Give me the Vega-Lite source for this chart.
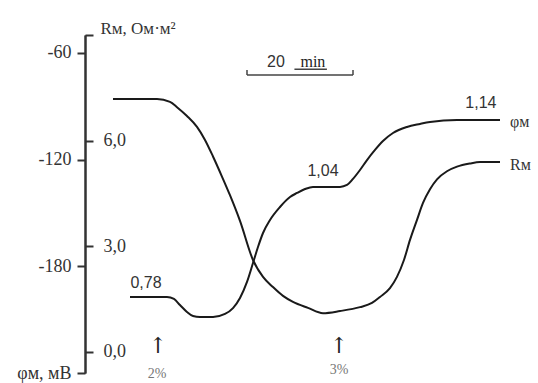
{
  "$schema": "https://vega.github.io/schema/vega-lite/v6.json",
  "width": 430,
  "height": 338,
  "autosize": {"type": "none"},
  "padding": {"left": 85, "top": 35, "right": 23, "bottom": 10},
  "background": "white",
  "config": {"view": {"stroke": null}, "axis": {"grid": false}},
  "datasets": {
    "phi": [
      {"t": 8.04, "v": -197.3}, {"t": 14.64, "v": -197.3}, {"t": 15.89, "v": -198.4},
      {"t": 16.96, "v": -201.8}, {"t": 18.21, "v": -205.7}, {"t": 19.29, "v": -208.0},
      {"t": 20.54, "v": -208.5}, {"t": 22.86, "v": -208.5}, {"t": 25.0, "v": -206.8},
      {"t": 26.43, "v": -203.5}, {"t": 27.68, "v": -197.8}, {"t": 28.93, "v": -188.8},
      {"t": 30.0, "v": -178.2}, {"t": 30.89, "v": -169.2}, {"t": 31.79, "v": -161.3},
      {"t": 33.04, "v": -154.0}, {"t": 34.82, "v": -146.7}, {"t": 36.61, "v": -141.1},
      {"t": 37.86, "v": -138.8}, {"t": 39.29, "v": -136.6}, {"t": 40.71, "v": -135.4},
      {"t": 45.54, "v": -135.4}, {"t": 46.79, "v": -134.3}, {"t": 47.86, "v": -130.9},
      {"t": 49.11, "v": -125.9}, {"t": 50.36, "v": -120.3}, {"t": 51.79, "v": -114.6},
      {"t": 53.21, "v": -109.6}, {"t": 55.0, "v": -105.1}, {"t": 57.5, "v": -101.7},
      {"t": 59.82, "v": -100.0}, {"t": 61.61, "v": -98.9}, {"t": 66.43, "v": -97.8},
      {"t": 74.11, "v": -97.8}
    ],
    "r": [
      {"t": 5.0, "v": 7.18}, {"t": 12.86, "v": 7.18}, {"t": 15.18, "v": 7.10},
      {"t": 16.43, "v": 6.95}, {"t": 18.21, "v": 6.70}, {"t": 20.0, "v": 6.39},
      {"t": 21.43, "v": 6.02}, {"t": 22.86, "v": 5.55}, {"t": 24.46, "v": 4.98},
      {"t": 25.89, "v": 4.45}, {"t": 27.68, "v": 3.72}, {"t": 30.0, "v": 2.61},
      {"t": 31.79, "v": 2.13}, {"t": 33.57, "v": 1.84}, {"t": 35.36, "v": 1.59},
      {"t": 37.14, "v": 1.42}, {"t": 39.82, "v": 1.25}, {"t": 42.5, "v": 1.10},
      {"t": 45.54, "v": 1.16}, {"t": 49.11, "v": 1.27}, {"t": 51.25, "v": 1.39},
      {"t": 52.68, "v": 1.56}, {"t": 54.46, "v": 1.81}, {"t": 55.71, "v": 2.13},
      {"t": 56.96, "v": 2.61}, {"t": 58.04, "v": 3.18}, {"t": 59.29, "v": 3.75},
      {"t": 60.36, "v": 4.23}, {"t": 61.61, "v": 4.62}, {"t": 62.86, "v": 4.90},
      {"t": 64.64, "v": 5.13}, {"t": 66.43, "v": 5.26}, {"t": 68.75, "v": 5.35},
      {"t": 70.54, "v": 5.39}, {"t": 74.11, "v": 5.39}
    ],
    "valueLabels": [
      {"t": 10.89, "v": -189.4, "label": "0,78"},
      {"t": 42.5, "v": -126.4, "label": "1,04"},
      {"t": 70.7, "v": -88.2, "label": "1,14"},
      {"t": 34.1, "v": -65.2, "label": "20"}
    ],
    "serifCenter": [
      {"t": 40.7, "v": -65.2, "label": "min"}
    ],
    "curveNames": [
      {"t": 75.89, "v": -98.9, "label": "φм"},
      {"t": 75.89, "v": -123.1, "label": "Rм"}
    ],
    "segments": [
      {"t": 28.93, "t2": 47.86, "v": -72.5, "v2": -72.5},
      {"t": 28.93, "t2": 28.93, "v": -72.5, "v2": -69.7},
      {"t": 47.86, "t2": 47.86, "v": -72.5, "v2": -69.7},
      {"t": 37.4, "t2": 43.2, "v": -69.3, "v2": -69.3}
    ],
    "arrows": [
      {"t": 13.04, "v": -224.8, "label": "↑"},
      {"t": 45.36, "v": -224.8, "label": "↑"}
    ],
    "percents": [
      {"t": 12.86, "v": -240.6, "label": "2%"},
      {"t": 45.36, "v": -238.3, "label": "3%"}
    ]
  },
  "layer": [
    {
      "layer": [
        {
          "data": {"name": "phi"},
          "mark": {"type": "line", "interpolate": "monotone", "color": "#1a1a1a", "strokeWidth": 2},
          "encoding": {
            "x": {"field": "t", "type": "quantitative", "scale": {"domain": [0, 76.79], "nice": false, "zero": false}, "axis": null},
            "y": {
              "field": "v", "type": "quantitative",
              "scale": {"domain": [-240, -50], "nice": false, "zero": false},
              "axis": {
                "orient": "left", "values": [-240, -180, -120, -60],
                "labelExpr": "datum.value == -240 ? 'φм, мВ' : '' + datum.value",
                "title": null, "tickSize": 8, "tickWidth": 2, "tickColor": "#333",
                "domainColor": "#333", "domainWidth": 2,
                "labelFont": "Liberation Serif", "labelFontSize": 18, "labelColor": "#333",
                "labelPadding": 6, "grid": false
              }
            }
          }
        },
        {
          "data": {"name": "segments"},
          "mark": {"type": "rule", "color": "#444", "strokeWidth": 1.5},
          "encoding": {
            "x": {"field": "t", "type": "quantitative", "axis": null},
            "x2": {"field": "t2"},
            "y": {"field": "v", "type": "quantitative"},
            "y2": {"field": "v2"}
          }
        },
        {
          "data": {"name": "valueLabels"},
          "mark": {"type": "text", "font": "Liberation Sans", "fontSize": 16, "color": "#333", "align": "center", "baseline": "middle"},
          "encoding": {
            "x": {"field": "t", "type": "quantitative", "axis": null},
            "y": {"field": "v", "type": "quantitative"},
            "text": {"field": "label"}
          }
        },
        {
          "data": {"name": "serifCenter"},
          "mark": {"type": "text", "font": "Liberation Serif", "fontSize": 16, "color": "#222", "align": "center", "baseline": "middle"},
          "encoding": {
            "x": {"field": "t", "type": "quantitative", "axis": null},
            "y": {"field": "v", "type": "quantitative"},
            "text": {"field": "label"}
          }
        },
        {
          "data": {"name": "curveNames"},
          "mark": {"type": "text", "font": "Liberation Serif", "fontSize": 16, "color": "#333", "align": "left", "baseline": "middle"},
          "encoding": {
            "x": {"field": "t", "type": "quantitative", "axis": null},
            "y": {"field": "v", "type": "quantitative"},
            "text": {"field": "label"}
          }
        },
        {
          "data": {"name": "arrows"},
          "mark": {"type": "text", "font": "DejaVu Serif", "fontSize": 22, "color": "#222", "align": "center", "baseline": "middle"},
          "encoding": {
            "x": {"field": "t", "type": "quantitative", "axis": null},
            "y": {"field": "v", "type": "quantitative"},
            "text": {"field": "label"}
          }
        },
        {
          "data": {"name": "percents"},
          "mark": {"type": "text", "font": "Liberation Serif", "fontSize": 14, "color": "#777", "align": "center", "baseline": "middle"},
          "encoding": {
            "x": {"field": "t", "type": "quantitative", "axis": null},
            "y": {"field": "v", "type": "quantitative"},
            "text": {"field": "label"}
          }
        }
      ]
    },
    {
      "data": {"name": "r"},
      "mark": {"type": "line", "interpolate": "monotone", "color": "#1a1a1a", "strokeWidth": 2},
      "encoding": {
        "x": {"field": "t", "type": "quantitative", "axis": null},
        "y": {
          "field": "v", "type": "quantitative",
          "scale": {"domain": [-0.6, 9], "nice": false, "zero": false},
          "axis": {
            "orient": "right", "offset": -430, "values": [0, 3, 6, 9],
            "labelExpr": "datum.value == 9 ? '' : replace(format(datum.value, '.1f'), '.', ',')",
            "title": "Rм, Ом·м²", "titleAngle": 0, "titleX": 15, "titleY": -7,
            "titleAlign": "left", "titleBaseline": "middle",
            "titleFont": "Liberation Serif", "titleFontSize": 17, "titleFontWeight": "normal", "titleColor": "#333",
            "tickSize": 8, "tickWidth": 2, "tickColor": "#333",
            "domainColor": "#333", "domainWidth": 2,
            "labelFont": "Liberation Serif", "labelFontSize": 18, "labelColor": "#333",
            "labelPadding": 10, "grid": false
          }
        }
      }
    }
  ],
  "resolve": {"scale": {"y": "independent"}}
}
